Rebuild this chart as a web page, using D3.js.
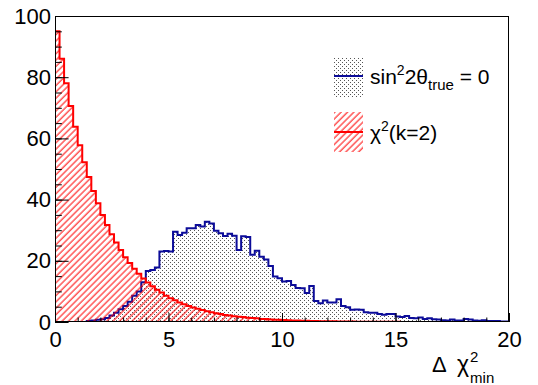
<!DOCTYPE html>
<html>
<head>
<meta charset="utf-8">
<script src="https://cdn.jsdelivr.net/npm/d3@7"></script>
<style>
  body { margin: 0; background: #fff; }
  svg { display: block; }
  text { font-family: "Liberation Sans", Arial, Helvetica, sans-serif; fill: #000; }
</style>
</head>
<body>
<script>
// Histogram binning: 100 bins of width 0.2 over [0, 20]
const xRange = [0, 20];
const yRange = [0, 100];
const binWidth = 0.2;

// chi-square (k=2) reference distribution, entries per bin
const chi2Counts = [
  95.0, 86.0, 78.0, 70.6, 63.8, 57.8, 52.2, 47.4, 42.8, 38.8,
  35.0, 31.7, 28.7, 26.0, 23.5, 21.2, 19.3, 17.4, 15.8, 14.2,
  12.9, 11.7, 10.5, 9.6, 8.6, 7.8, 7.1, 6.4, 5.8, 5.2,
  4.7, 4.3, 3.9, 3.5, 3.2, 2.9, 2.6, 2.3, 2.1, 1.9,
  1.7, 1.6, 1.4, 1.3, 1.2, 1.0, 0.95, 0.85, 0.77, 0.7,
  0.63, 0.57, 0.52, 0.47, 0.42, 0.38, 0.34, 0.31, 0.28, 0.25,
  0.23, 0.21, 0.19, 0.17, 0.15, 0.14, 0.12, 0.11, 0.10, 0.09,
  0.08, 0.08, 0.07, 0.06, 0.05, 0.05, 0.04, 0.04, 0.04, 0.03,
  0.03, 0.03, 0.02, 0.02, 0.02, 0.02, 0.01, 0.01, 0.01, 0.01,
  0.01, 0.01, 0.01, 0.01, 0, 0, 0, 0, 0, 0
];

// pseudo-experiments with sin^2(2theta)_true = 0, entries per bin
const trueZeroCounts = [
  0, 0, 0, 0, 0, 0, 0, 0.3, 0.5, 0.7,
  0.9, 1.3, 2.1, 3.0, 4.2, 5.2, 6.6, 8.6, 10.0, 13.0,
  16.7, 17.0, 17.8, 23.0, 23.2, 23.0, 29.5, 28.4, 29.2, 30.6,
  30.6, 31.7, 31.2, 32.8, 32.2, 29.8, 29.0, 28.1, 28.8, 28.2,
  23.5, 28.0, 27.8, 22.0, 23.3, 21.3, 20.4, 18.3, 14.9, 14.3,
  13.2, 13.4, 12.1, 11.1, 11.0, 9.5, 11.8, 6.9, 6.1, 7.0,
  6.4, 6.4, 7.4, 5.2, 4.8, 4.0, 4.1, 4.0, 3.2, 3.0,
  3.0, 2.6, 2.4, 2.6, 2.6, 1.8, 1.6, 2.0, 1.3, 1.2,
  1.5, 1.0, 1.2, 0.9, 0.8, 0.6, 0.5, 0.8, 0.5, 0.5,
  1.0, 0.8, 0.5, 0.4, 0.6, 0.3, 0.3, 0.3, 0.2, 0.2
];

const xMajorTicks = [0, 5, 10, 15, 20];
const xMinorTicks = d3.range(0, 21, 1);
const yMajorTicks = [0, 20, 40, 60, 80, 100];
const yMinorTicks = d3.range(0, 101, 5);

const W = 538, H = 385;
const frame = { left: 55, top: 16, right: 509, bottom: 322 };

const svg = d3.select("body").append("svg")
  .attr("width", W).attr("height", H);

const x = d3.scaleLinear().domain(xRange).range([frame.left, frame.right]);
const y = d3.scaleLinear().domain(yRange).range([frame.bottom, frame.top]);

// fill patterns: staggered fine dots and diagonal hatching
const defs = svg.append("defs");
const dots = defs.append("pattern").attr("id", "dots")
  .attr("patternUnits", "userSpaceOnUse").attr("width", 4).attr("height", 4);
dots.append("rect").attr("x", 0).attr("y", 0).attr("width", 1).attr("height", 1).attr("fill", "#555");
dots.append("rect").attr("x", 2).attr("y", 2).attr("width", 1).attr("height", 1).attr("fill", "#555");

const hatch = defs.append("pattern").attr("id", "hatch")
  .attr("patternUnits", "userSpaceOnUse").attr("width", 4.5).attr("height", 4.5)
  .attr("patternTransform", "rotate(45)");
hatch.append("line").attr("x1", 1).attr("y1", 0).attr("x2", 1).attr("y2", 4.5)
  .attr("stroke", "#ff0000").attr("stroke-width", 1);

defs.append("clipPath").attr("id", "frameClip").append("rect")
  .attr("x", frame.left).attr("y", frame.top)
  .attr("width", frame.right - frame.left).attr("height", frame.bottom - frame.top);

// step outline of a histogram, starting and ending on the baseline
function stepPoints(counts) {
  const pts = [[x(xRange[0]), y(0)]];
  counts.forEach((c, i) => {
    const x0 = xRange[0] + i * binWidth, x1 = x0 + binWidth;
    pts.push([x(x0), y(c)], [x(x1), y(c)]);
  });
  pts.push([x(xRange[0] + counts.length * binWidth), y(0)]);
  return pts;
}
const line = d3.line();

const plot = svg.append("g").attr("clip-path", "url(#frameClip)");

function drawHist(counts, fill, stroke) {
  const pts = stepPoints(counts);
  plot.append("path").attr("d", line(pts) + "Z")
    .attr("fill", fill).attr("stroke", "none");
  plot.append("path").attr("d", line(pts))
    .attr("fill", "none").attr("stroke", stroke).attr("stroke-width", 2)
    .attr("stroke-linejoin", "miter");
}

drawHist(trueZeroCounts, "url(#dots)", "#0c0c99");
drawHist(chi2Counts, "url(#hatch)", "#ff0000");

// axes with inward ticks
const xAxisG = svg.append("g").attr("transform", `translate(0,${frame.bottom})`);
xAxisG.call(d3.axisBottom(x).tickValues(xMinorTicks).tickSize(-4.5).tickFormat(""));
xAxisG.call(g => g.select(".domain").remove());
const xMajG = svg.append("g").attr("transform", `translate(0,${frame.bottom})`)
  .call(d3.axisBottom(x).tickValues(xMajorTicks).tickSize(-9).tickPadding(9).tickFormat(d3.format("d")));
xMajG.select(".domain").remove();
xMajG.selectAll("text").attr("font-size", 22).style("font-family", '"Liberation Sans", Arial, sans-serif');

const yMinG = svg.append("g").attr("transform", `translate(${frame.left},0)`)
  .call(d3.axisLeft(y).tickValues(yMinorTicks).tickSize(-6.8).tickFormat(""));
yMinG.select(".domain").remove();
const yMajG = svg.append("g").attr("transform", `translate(${frame.left},0)`)
  .call(d3.axisLeft(y).tickValues(yMajorTicks).tickSize(-13.6).tickPadding(4).tickFormat(d3.format("d")));
yMajG.select(".domain").remove();
yMajG.selectAll("text").attr("font-size", 22).style("font-family", '"Liberation Sans", Arial, sans-serif');
svg.selectAll(".tick line").attr("stroke", "#000").attr("stroke-width", 1);

// frame
svg.append("rect")
  .attr("x", frame.left + 0.5).attr("y", frame.top + 0.5)
  .attr("width", frame.right - frame.left - 1).attr("height", frame.bottom - frame.top - 1)
  .attr("fill", "none").attr("stroke", "#000").attr("stroke-width", 1);

// x-axis title: Δ χ^2_min
svg.append("text").attr("x", 432).attr("y", 372).attr("font-size", 22).text("Δ");
const chi = svg.append("text").attr("x", 457).attr("y", 372).attr("font-size", 23).text("χ");
const cb = chi.node().getBBox();
const tx = cb.x + cb.width + 1;
svg.append("text").attr("x", tx).attr("y", 362).attr("font-size", 15).text("2");
svg.append("text").attr("x", tx).attr("y", 383).attr("font-size", 15).text("min");

// legend
const legend = svg.append("g");
legend.append("rect").attr("x", 334).attr("y", 57).attr("width", 29).attr("height", 40)
  .attr("fill", "url(#dots)");
legend.append("line").attr("x1", 334).attr("x2", 363).attr("y1", 76).attr("y2", 76)
  .attr("stroke", "#0c0c99").attr("stroke-width", 2);
legend.append("rect").attr("x", 334).attr("y", 112).attr("width", 29).attr("height", 40)
  .attr("fill", "url(#hatch)");
legend.append("line").attr("x1", 334).attr("x2", 363).attr("y1", 132).attr("y2", 132)
  .attr("stroke", "#ff0000").attr("stroke-width", 2);

const l1 = legend.append("text").attr("x", 370).attr("y", 84).attr("font-size", 21);
l1.append("tspan").text("sin");
l1.append("tspan").attr("font-size", 14).attr("dy", -9).text("2");
l1.append("tspan").attr("dy", 9).text("2θ");
l1.append("tspan").attr("font-size", 15).attr("dy", 6).text("true");
l1.append("tspan").attr("dy", -6).text(" = 0");

const l2 = legend.append("text").attr("x", 370).attr("y", 140).attr("font-size", 21);
l2.append("tspan").text("χ");
l2.append("tspan").attr("font-size", 14).attr("dy", -9).text("2");
l2.append("tspan").attr("dy", 9).text("(k=2)");
</script>
</body>
</html>
